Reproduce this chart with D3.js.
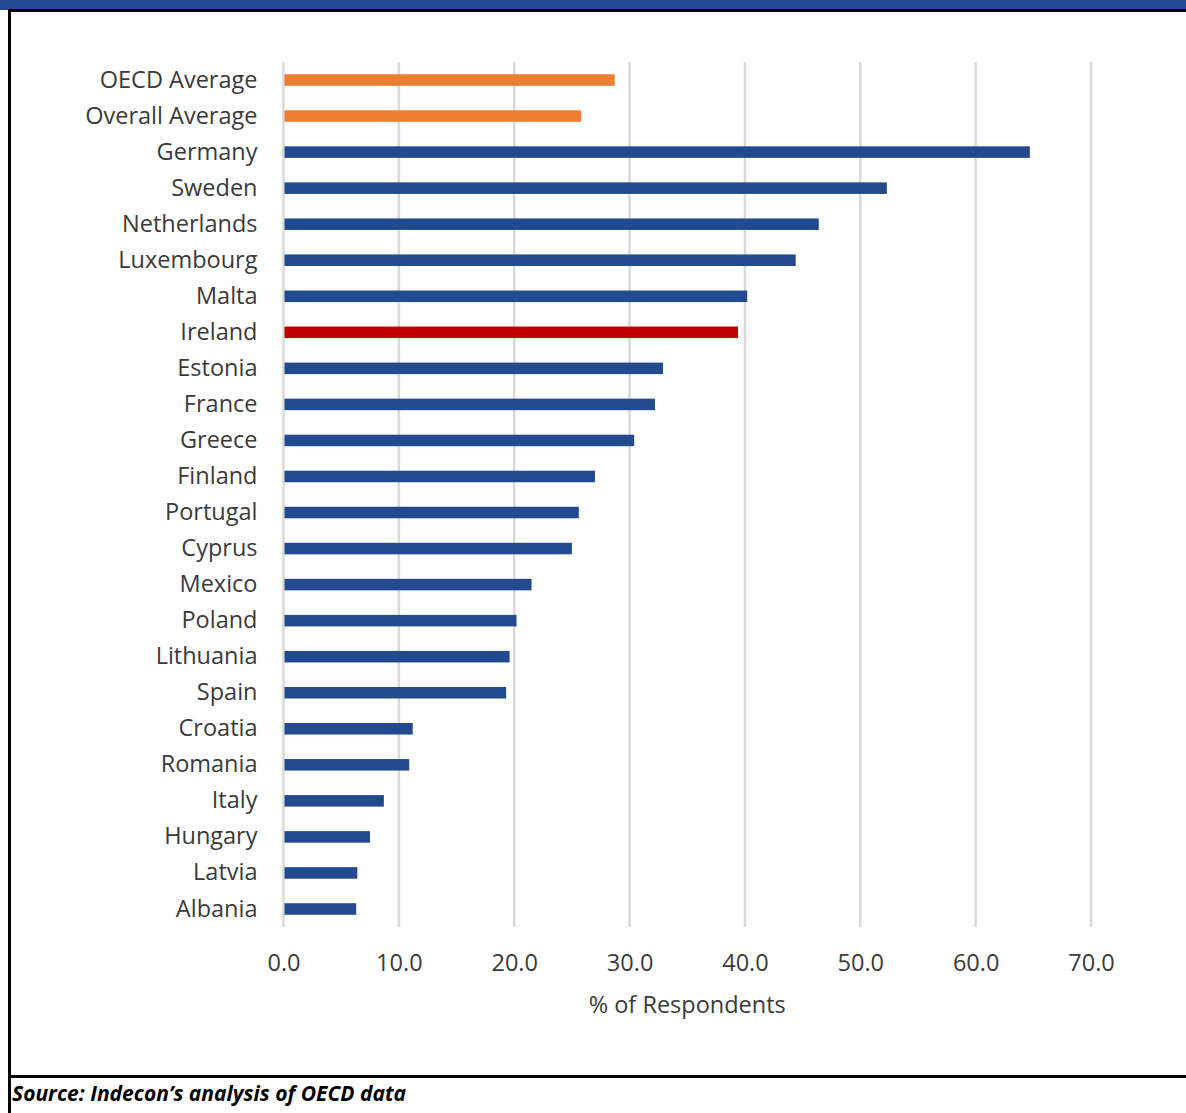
<!DOCTYPE html>
<html>
<head>
<meta charset="utf-8">
<script src="https://cdn.jsdelivr.net/npm/d3@7"></script>
<style>
  html, body { margin: 0; padding: 0; background: #fff; }
  svg { display: block; }
</style>
</head>
<body>
<svg id="chart" width="1186" height="1113"></svg>
<script>
// Share of respondents by country (%)
const categories = [
  "OECD Average", "Overall Average", "Germany", "Sweden", "Netherlands",
  "Luxembourg", "Malta", "Ireland", "Estonia", "France", "Greece", "Finland",
  "Portugal", "Cyprus", "Mexico", "Poland", "Lithuania", "Spain", "Croatia",
  "Romania", "Italy", "Hungary", "Latvia", "Albania"
];
const values = [
  28.7, 25.8, 64.7, 52.3, 46.4, 44.4, 40.2, 39.4, 32.9, 32.2, 30.4, 27.0,
  25.6, 25.0, 21.5, 20.2, 19.6, 19.3, 11.2, 10.9, 8.7, 7.5, 6.4, 6.3
];
const averageLabels = ["OECD Average", "Overall Average"];
const highlightLabels = ["Ireland"];
const xTicks = [0, 10, 20, 30, 40, 50, 60, 70];
const xTitle = "% of Respondents";
const sourceNote = "Source: Indecon\u2019s analysis of OECD data";

const data = categories.map((c, i) => ({ name: c, value: values[i] }));

const svg = d3.select("#chart");
const W = 1186, H = 1113;
const font = "'Open Sans', sans-serif";

// frame: blue top band, black rules, left border
svg.append("rect").attr("x", 0).attr("y", 0).attr("width", W).attr("height", 10).attr("fill", "#234a91");
svg.append("rect").attr("x", 8).attr("y", 9).attr("width", W - 8).attr("height", 3).attr("fill", "#000");
svg.append("rect").attr("x", 8).attr("y", 9).attr("width", 3).attr("height", H - 9).attr("fill", "#000");
svg.append("rect").attr("x", 8).attr("y", 1075).attr("width", W - 8).attr("height", 3).attr("fill", "#000");

const x = d3.scaleLinear().domain([0, 70]).range([283.5, 1091]);
const y = d3.scaleBand().domain(categories).range([62, 927]).paddingInner(0.68).paddingOuter(0.34);

// gridlines
svg.append("g")
  .selectAll("line")
  .data(xTicks)
  .join("line")
  .attr("x1", d => x(d)).attr("x2", d => x(d))
  .attr("y1", 62).attr("y2", 927)
  .attr("stroke", "#d9d9d9").attr("stroke-width", 2.5);

// bars
svg.append("g")
  .selectAll("rect")
  .data(data)
  .join("rect")
  .attr("x", x(0) + 1)
  .attr("y", d => y(d.name))
  .attr("width", d => x(d.value) - x(0) - 1)
  .attr("height", y.bandwidth())
  .attr("fill", d => averageLabels.includes(d.name) ? "#ed7d31"
                    : highlightLabels.includes(d.name) ? "#c00000" : "#234a8f");

// category axis labels
const yAxis = d3.axisLeft(y).tickSize(0).tickPadding(26);
const gy = svg.append("g").attr("transform", `translate(${x(0)},0)`).call(yAxis);
gy.select(".domain").remove();
gy.selectAll("text")
  .attr("font-family", font).attr("font-size", 23.5).attr("fill", "#3a3a3a");

// value axis labels
const xAxis = d3.axisBottom(x).tickValues(xTicks).tickFormat(d3.format(".1f")).tickSize(0).tickPadding(0);
const gx = svg.append("g").attr("transform", "translate(0,954)").call(xAxis);
gx.select(".domain").remove();
gx.selectAll("text")
  .attr("font-family", font).attr("font-size", 23.5).attr("fill", "#3a3a3a")
  .attr("dy", "0.71em").attr("y", 0);

// axis title
svg.append("text")
  .attr("x", (x(0) + x(70)) / 2).attr("y", 1013)
  .attr("text-anchor", "middle")
  .attr("font-family", font).attr("font-size", 23.5).attr("fill", "#3a3a3a")
  .text(xTitle);

// source note
svg.append("text")
  .attr("x", 12).attr("y", 1101)
  .attr("font-family", font).attr("font-size", 21)
  .attr("font-weight", "bold").attr("font-style", "italic").attr("fill", "#000")
  .text(sourceNote);
</script>
</body>
</html>
